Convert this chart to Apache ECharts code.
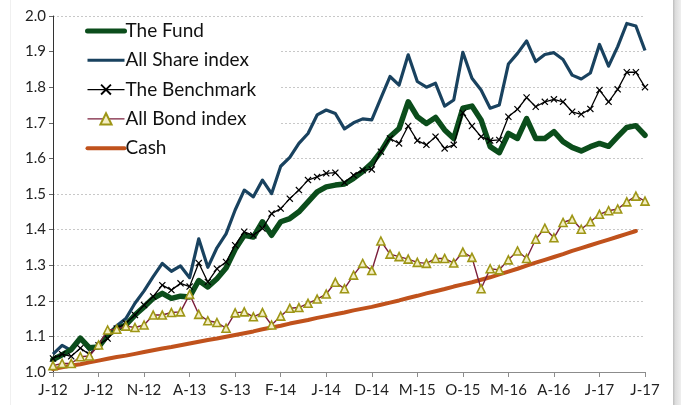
<!DOCTYPE html>
<html><head><meta charset="utf-8">
<script src="https://cdn.jsdelivr.net/npm/echarts@6/dist/echarts.min.js"></script>
<style>html,body{margin:0;padding:0;background:#fff}#c{width:681px;height:405px}</style>
</head><body><div id="c"></div>
<script>
var categories = ['J-12','F-12','M-12','A-12','M-12','J-12','J-12','A-12','S-12','O-12','N-12','D-12',
'J-13','F-13','M-13','A-13','M-13','J-13','J-13','A-13','S-13','O-13','N-13','D-13',
'J-14','F-14','M-14','A-14','M-14','J-14','J-14','A-14','S-14','O-14','N-14','D-14',
'J-15','F-15','M-15','A-15','M-15','J-15','J-15','A-15','S-15','O-15','N-15','D-15',
'J-16','F-16','M-16','A-16','M-16','J-16','J-16','A-16','S-16','O-16','N-16','D-16',
'J-17','F-17','M-17','A-17','M-17','J-17'];
var fund = [1.035,1.048,1.063,1.095,1.068,1.07,1.104,1.122,1.132,1.16,
1.183,1.207,1.221,1.207,1.213,1.211,1.257,1.239,1.262,1.292,
1.345,1.384,1.379,1.422,1.384,1.422,1.431,1.45,1.478,1.506,
1.52,1.525,1.528,1.544,1.563,1.586,1.619,1.661,1.684,1.759,
1.717,1.698,1.715,1.68,1.656,1.741,1.747,1.708,1.633,1.616,
1.67,1.656,1.712,1.656,1.656,1.675,1.647,1.631,1.621,1.633,
1.642,1.634,1.661,1.687,1.692,1.665];
var allShare = [1.05,1.075,1.061,1.095,1.062,1.075,1.105,1.13,1.15,1.193,
1.228,1.268,1.305,1.283,1.298,1.265,1.374,1.294,1.349,1.388,
1.455,1.511,1.492,1.539,1.501,1.578,1.603,1.642,1.67,1.722,
1.736,1.726,1.683,1.70,1.711,1.708,1.769,1.83,1.806,1.891,
1.816,1.80,1.811,1.747,1.764,1.898,1.825,1.792,1.741,1.75,
1.865,1.895,1.93,1.872,1.892,1.897,1.878,1.834,1.823,1.84,
1.92,1.859,1.914,1.979,1.972,1.903];
var benchmark = [1.038,1.05,1.044,1.067,1.049,1.075,1.094,1.122,1.137,1.16,
1.188,1.212,1.244,1.23,1.249,1.24,1.306,1.253,1.29,1.309,
1.356,1.394,1.384,1.403,1.445,1.459,1.487,1.511,1.539,1.548,
1.558,1.56,1.532,1.553,1.567,1.569,1.619,1.656,1.642,1.691,
1.65,1.638,1.661,1.628,1.638,1.728,1.691,1.661,1.65,1.652,
1.717,1.738,1.771,1.745,1.759,1.766,1.759,1.731,1.724,1.739,
1.792,1.759,1.794,1.842,1.842,1.8];
var allBond = [1.018,1.024,1.024,1.043,1.045,1.076,1.118,1.12,1.129,1.125,
1.132,1.16,1.16,1.167,1.169,1.218,1.162,1.144,1.139,1.123,
1.166,1.169,1.155,1.167,1.132,1.157,1.179,1.181,1.193,1.205,
1.219,1.252,1.234,1.272,1.305,1.285,1.368,1.331,1.324,1.317,
1.308,1.305,1.319,1.319,1.306,1.337,1.322,1.234,1.29,1.287,
1.315,1.34,1.319,1.373,1.404,1.377,1.42,1.429,1.401,1.422,
1.443,1.453,1.458,1.478,1.494,1.48];
var cash = [1.008,1.013,1.018,1.022,1.027,1.032,1.037,1.042,1.046,1.051,
1.056,1.061,1.066,1.070,1.075,1.080,1.085,1.090,1.094,1.099,
1.104,1.109,1.114,1.120,1.125,1.130,1.136,1.141,1.146,1.152,
1.157,1.162,1.167,1.173,1.178,1.183,1.189,1.195,1.201,1.208,
1.214,1.221,1.227,1.233,1.240,1.246,1.252,1.259,1.266,1.274,
1.282,1.290,1.299,1.307,1.315,1.323,1.331,1.340,1.348,1.356,
1.364,1.372,1.380,1.388,1.396,null];
var yTicks = {min:1.0, max:2.0, step:0.1};

var FONT = 'Lato';
var xMark = 'path://M0,1.2L1.2,0L5,3.8L8.8,0L10,1.2L6.2,5L10,8.8L8.8,10L5,6.2L1.2,10L0,8.8L3.8,5Z';
var noSym = {color:'rgba(0,0,0,0)',borderWidth:0,opacity:0};
var chart = echarts.init(document.getElementById('c'), null, {renderer:'canvas'});
chart.setOption({
  animation:false,
  backgroundColor:'#fff',
  textStyle:{fontFamily:FONT},
  grid:{left:53,right:36,top:16,bottom:33,containLabel:false},
  legend:{
    orient:'vertical', left:54, top:17,
    padding:[4,24,3,31], itemGap:9.3, itemWidth:37, itemHeight:14,
    backgroundColor:'#fff',
    textStyle:{fontFamily:FONT,fontSize:19,color:'#111',lineHeight:20,padding:[0,0,0,-4]},
    data:[
      {name:'The Fund',itemStyle:noSym,lineStyle:{width:5,color:'#0b4d1b',cap:'round'}},
      {name:'All Share index',itemStyle:noSym,lineStyle:{width:3,color:'#19425f'}},
      {name:'The Benchmark',lineStyle:{width:1.3,color:'#000'}},
      {name:'All Bond index',lineStyle:{width:1.4,color:'#7b1f3c'}},
      {name:'Cash',itemStyle:noSym,lineStyle:{width:4,color:'#c0521c',cap:'round'}}
    ]
  },
  xAxis:{
    type:'category', data:categories, boundaryGap:false,
    axisLine:{show:true,lineStyle:{color:'#8c8c8c',width:1}},
    axisTick:{show:true,interval:4,length:5,lineStyle:{color:'#8c8c8c'}},
    axisLabel:{interval:4,margin:11,fontFamily:FONT,fontSize:15,color:'#222'},
    splitLine:{show:false}
  },
  yAxis:{
    type:'value', min:yTicks.min, max:yTicks.max, interval:yTicks.step,
    axisLine:{show:true,lineStyle:{color:'#333',width:1}},
    axisTick:{show:true,length:4,lineStyle:{color:'#666'}},
    axisLabel:{margin:7,fontFamily:FONT,fontSize:15,color:'#222',formatter:function(v){return v.toFixed(1);}},
    splitLine:{show:true,lineStyle:{color:'#c8c8c8',type:[2,2],width:1}}
  },
  series:[
    {name:'The Fund',type:'line',data:fund,symbol:'none',z:3,
     lineStyle:{color:'#0b4d1b',width:5.5,cap:'round',join:'round'},itemStyle:{color:'#0b4d1b'}},
    {name:'All Share index',type:'line',data:allShare,symbol:'none',z:2,
     lineStyle:{color:'#19425f',width:3.2,join:'round'},itemStyle:{color:'#19425f'}},
    {name:'The Benchmark',type:'line',data:benchmark,symbol:xMark,symbolSize:7,showAllSymbol:true,z:4,
     lineStyle:{color:'#000',width:1.3},itemStyle:{color:'#000'}},
    {name:'All Bond index',type:'line',data:allBond,symbol:'triangle',symbolSize:8,showAllSymbol:true,z:5,
     lineStyle:{color:'#7b1f3c',width:1.4},
     itemStyle:{color:'#f4efc4',borderColor:'#9e9616',borderWidth:1.6}},
    {name:'Cash',type:'line',data:cash,symbol:'none',z:4,
     lineStyle:{color:'#c0521c',width:4,cap:'round'},itemStyle:{color:'#c0521c'}}
  ],
  graphic:[
    {type:'rect',shape:{x:673,y:0,width:8,height:405},silent:true,
     style:{fill:new echarts.graphic.LinearGradient(0,0,1,0,[{offset:0,color:'#bdbdbd'},{offset:0.3,color:'#dcdcdc'},{offset:1,color:'#efefef'}])}},
    {type:'rect',shape:{x:10,y:0,width:1,height:405},silent:true,style:{fill:'#f0f0f0'}}
  ]
});
</script></body></html>
